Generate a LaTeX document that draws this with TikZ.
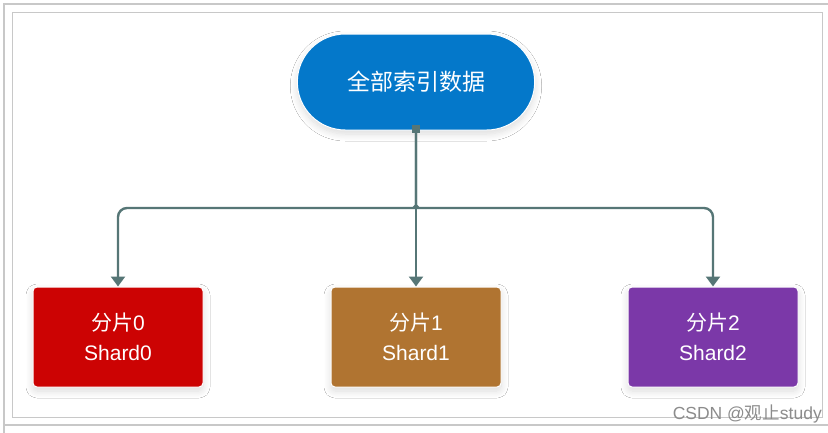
\documentclass[tikz,border=0pt]{standalone}
\usepackage{fontspec}
\setmainfont{Liberation Sans}
\newfontfamily\cjk{Noto Sans CJK SC}
\usetikzlibrary{shapes.misc,arrows.meta,shadows.blur}
\definecolor{topblue}{HTML}{0478CA}
\definecolor{shredA}{HTML}{CC0303}
\definecolor{shbrown}{HTML}{B07431}
\definecolor{shpurple}{HTML}{7B38A8}
\definecolor{conn}{HTML}{567676}
\definecolor{framegray}{HTML}{C8C8C8}
\tikzset{softshadow/.style={blur shadow={shadow blur steps=12,shadow xshift=0pt,shadow yshift=-4pt,
    shadow blur radius=7pt,shadow opacity=14}}}
\begin{document}
\begin{tikzpicture}[x=1pt,y=-1pt,
  shardbox/.style={rounded corners=4pt,minimum width=170pt,minimum height=100pt,
    text=white,align=center,font=\fontsize{21}{30}\selectfont,draw=white,line width=1pt,softshadow},
  link/.style={draw=conn,line width=2.4pt},
  tip/.style={-{Triangle[length=10pt,width=14pt]}}]
\useasboundingbox (0,0) rectangle (828,432);
\fill[white] (0,0) rectangle (828,432);
% frames
\draw[framegray,line width=1.2pt] (4,436) -- (4,4) -- (832,4);
\draw[framegray,line width=1.2pt] (4,425) -- (828,425);
\draw[framegray,line width=1pt] (12,12) rectangle (822,417);
% top node
\node[rounded rectangle,fill=topblue,draw=white,line width=1pt,minimum width=244pt,minimum height=96pt,
  text=white,font=\cjk\fontsize{23}{28}\selectfont,softshadow]
  (top) at (416,82) {全部索引数据};
% shards
\node[shardbox,fill=shredA] (s0) at (118,337) {{\cjk 分片}0\\Shard0};
\node[shardbox,fill=shbrown] (s1) at (416,337) {{\cjk 分片}1\\Shard1};
\node[shardbox,fill=shpurple] (s2) at (713,337) {{\cjk 分片}2\\Shard2};
% connectors
\coordinate (stem) at ([yshift=1pt]top.south);
\fill[conn] ([xshift=-4pt,yshift=-3pt]stem) rectangle ([xshift=4pt,yshift=5pt]stem);
\draw[link,tip] (stem) -- (s1.north);
\draw[link,tip,rounded corners=9pt] (stem) -- (416,197) .. controls (416,205) and (413,208) .. (405,208) -| (s0.north);
\draw[link,tip,rounded corners=9pt] (stem) -- (416,197) .. controls (416,205) and (419,208) .. (427,208) -| (s2.north);
% watermark
\node[text=black!45,font=\fontsize{17.5}{19}\selectfont,anchor=east,inner sep=0pt] (wm) at (822,414) {CSDN @{\cjk 观止}study};
\end{tikzpicture}
\end{document}
